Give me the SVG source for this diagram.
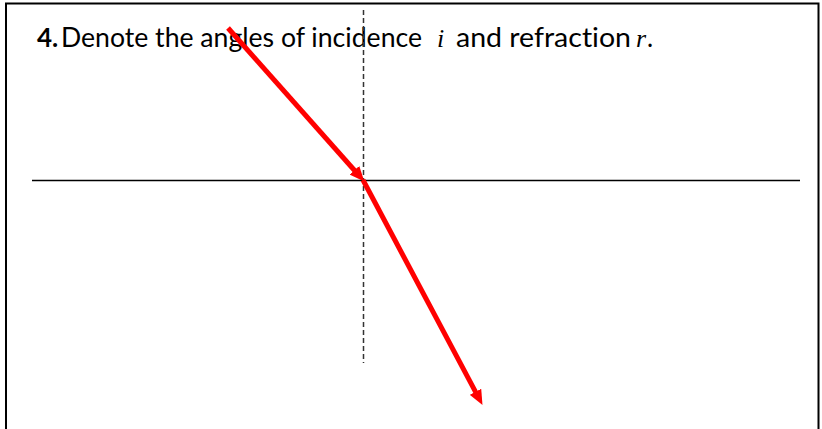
<svg xmlns="http://www.w3.org/2000/svg" width="822" height="429" viewBox="0 0 822 429">
<style>
.frame{fill:none;stroke:#000;stroke-width:2}
.surface{stroke:#000;stroke-width:1.3}
.normal{stroke:#333;stroke-width:1.5;stroke-dasharray:5 3}
.ray{stroke:#ff0000;stroke-width:5;fill:none}
.t{font-family:Lato,"Open Sans","Liberation Sans",sans-serif;font-size:26px;fill:#000;font-variant-ligatures:none}
.m{font-family:"Liberation Serif","DejaVu Serif",serif;font-style:italic;font-size:26px;fill:#000}
</style>
<defs>
<marker id="ah" markerUnits="userSpaceOnUse" markerWidth="15" markerHeight="13" viewBox="0 0 15 13" refX="5" refY="6.5" orient="auto">
<path d="M0,0 L15,6.5 L0,13 z" fill="#ff0000"/>
</marker>
</defs>
<path class="frame" d="M6,430 V3.5 H818.5 V430"/>
<g id="question">
<text class="t" y="47"><tspan x="37" font-weight="bold">4.</tspan><tspan x="61" textLength="361" lengthAdjust="spacingAndGlyphs">Denote the angles of incidence</tspan></text>
<text class="m" x="437" y="47">i</text>
<text class="t" x="456" y="47" textLength="175" lengthAdjust="spacingAndGlyphs">and refraction</text>
<text class="m" x="636" y="47">r</text>
<text class="t" x="647" y="47">.</text>
</g>
<g id="interface">
<line class="surface" x1="32" y1="180.5" x2="800" y2="180.5"/>
</g>
<g id="normal">
<line class="normal" x1="363.5" y1="10" x2="363.5" y2="363"/>
</g>
<g id="connectors">
<line class="ray" x1="228" y1="28" x2="357.7" y2="174" marker-end="url(#ah)"/>
<line class="ray" x1="363" y1="180" x2="477.8" y2="396.2" marker-end="url(#ah)"/>
</g>
</svg>
